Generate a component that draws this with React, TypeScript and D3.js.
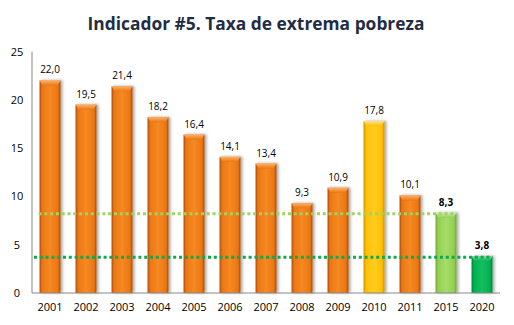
import React from "react";
import * as d3 from "d3";

const categories = ["2001","2002","2003","2004","2005","2006","2007","2008","2009","2010","2011","2015","2020"];
const values = [22.0,19.5,21.4,18.2,16.4,14.1,13.4,9.3,10.9,17.8,10.1,8.3,3.8];
const labels = ["22,0","19,5","21,4","18,2","16,4","14,1","13,4","9,3","10,9","17,8","10,1","8,3","3,8"];
const barKinds = ["o","o","o","o","o","o","o","o","o","y","o","lg","dg"];
const yTicks = [0,5,10,15,20,25];
const targetLines = [
  { value: 8.3, kind: "lg", fromCat: "2001", toCat: "2015" },
  { value: 3.8, kind: "dg", fromCat: "2001", toCat: "2020" },
];

const palette: Record<string, { dark: string; mid: string; light: string; cap: string }> = {
  o: { dark: "#a94a05", mid: "#ec7612", light: "#f58a25", cap: "#fbb36a" },
  y: { dark: "#c79400", mid: "#ffc000", light: "#ffcc22", cap: "#ffe08a" },
  lg: { dark: "#6fa63a", mid: "#92d050", light: "#a6dc6a", cap: "#cdeeb0" },
  dg: { dark: "#00813a", mid: "#00b050", light: "#13c060", cap: "#7fe0a8" },
};
const lineColors: Record<string, string> = { lg: "#9fd45f", dg: "#12a84c" };

export default function App() {
  const W = 514, H = 325;
  const x0 = 32, x1 = 500, yTop = 51.5, yBase = 293;
  const x = d3.scaleBand<string>().domain(categories).range([x0, x1]).paddingInner(0.42).paddingOuter(0.21);
  const y = d3.scaleLinear().domain([0, 25]).range([yBase, yTop]);
  const bw = x.bandwidth();
  const font = "'Open Sans', 'DejaVu Sans', sans-serif";

  return (
    <svg width={W} height={H} style={{ position: "absolute", left: 0, top: 0, background: "#fff" }}>
      <defs>
        {Object.entries(palette).map(([k, c]) => (
          <linearGradient key={k} id={"g" + k} x1="0" x2="1" y1="0" y2="0">
            <stop offset="0" stopColor={c.dark} />
            <stop offset="0.12" stopColor={c.mid} />
            <stop offset="0.5" stopColor={c.light} />
            <stop offset="0.88" stopColor={c.mid} />
            <stop offset="1" stopColor={c.dark} />
          </linearGradient>
        ))}
        {Object.entries(palette).map(([k, c]) => (
          <linearGradient key={k} id={"c" + k} x1="0" x2="0" y1="0" y2="1">
            <stop offset="0" stopColor={c.cap} />
            <stop offset="1" stopColor={c.mid} />
          </linearGradient>
        ))}
        <filter id="sh" x="-30%" y="-10%" width="160%" height="120%">
          <feGaussianBlur in="SourceAlpha" stdDeviation="1.5" />
          <feOffset dx="1.5" dy="0" result="b" />
          <feComponentTransfer><feFuncA type="linear" slope="0.35" /></feComponentTransfer>
          <feMerge><feMergeNode /><feMergeNode in="SourceGraphic" /></feMerge>
        </filter>
      </defs>

      <text x={256} y={30} textAnchor="middle" fontFamily={font} fontWeight="bold" fontSize={18} fill="#1f2d44"
        textLength={337} lengthAdjust="spacingAndGlyphs">
        Indicador #5. Taxa de extrema pobreza
      </text>

      {yTicks.map((t) => (
        <text key={t} x={17} y={y(t) + 4} textAnchor="middle" fontFamily={font} fontSize={11} fill="#000">{t}</text>
      ))}

      {categories.map((c, i) => {
        const k = barKinds[i];
        const bx = x(c)!;
        const by = y(values[i]);
        const capH = 5;
        return (
          <g key={c} filter="url(#sh)">
            <rect x={bx} y={by} width={bw} height={yBase - by} fill={`url(#g${k})`} />
            <path d={`M${bx},${by} L${bx + bw},${by} L${bx + bw - 3},${by + capH} L${bx + 3},${by + capH} Z`} fill={`url(#c${k})`} />
          </g>
        );
      })}

      {targetLines.map((l) => {
        const xs = l.kind === "lg" ? x(l.fromCat)! - 1 : x0 + 2;
        const xe = x(l.toCat)! + bw;
        return (
          <line key={l.kind} x1={xs} x2={xe} y1={y(l.value) + 1} y2={y(l.value) + 1} stroke={lineColors[l.kind]} strokeWidth={3} strokeDasharray="3 2.8" />
        );
      })}

      {categories.map((c, i) => (
        <text key={c} x={x(c)! + bw / 2} y={y(values[i]) - 7} textAnchor="middle" fontFamily={font} fontSize={10}
          fontWeight={i >= 11 ? "bold" : "normal"} fill="#000">{labels[i]}</text>
      ))}

      <line x1={x0} x2={x0} y1={yTop} y2={yBase} stroke="#888" strokeWidth={1} />
      <line x1={x0} x2={x1} y1={yBase} y2={yBase} stroke="#888" strokeWidth={1} />

      {categories.map((c) => (
        <text key={c} x={x(c)! + bw / 2} y={311} textAnchor="middle" fontFamily={font} fontSize={11} fill="#000">{c}</text>
      ))}
    </svg>
  );
}
